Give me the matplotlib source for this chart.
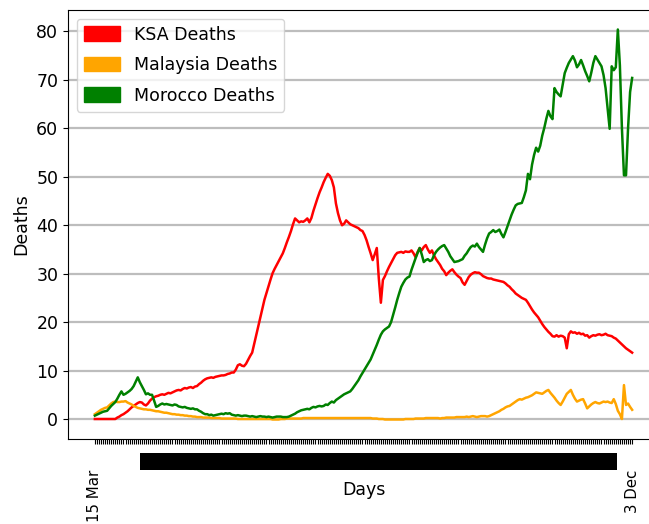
import matplotlib
matplotlib.use('Agg')
import matplotlib.pyplot as plt
from matplotlib.patches import Patch, Rectangle
import pandas as pd

days = pd.date_range('2020-03-15', '2020-12-03', freq='D')
day_labels = [f"{d.day} {d.strftime('%b')}" for d in days]

ksa = [
    0, 0, 0, 0, 0, 0, 0, 0, 0, 0, 0,
    0.3, 0.5, 0.8, 1.0, 1.3, 1.6, 2.0, 2.4, 2.7,
    3.0, 3.3, 3.5, 3.4, 3.0, 2.8, 3.2, 3.8, 4.2, 4.5,
    4.7, 4.8, 5.0, 5.1, 5.0, 5.2, 5.4, 5.3, 5.5, 5.7,
    5.9, 6.0, 5.9, 6.2, 6.4, 6.3, 6.5, 6.6, 6.4, 6.7,
    6.8, 7.2, 7.5, 7.9, 8.2, 8.4, 8.5, 8.6, 8.5, 8.7,
    8.8, 8.9, 9.0, 9.0, 9.1, 9.3, 9.4, 9.6, 9.6, 10.2,
    11.1, 11.3, 11.0, 10.9, 11.4, 12.2, 13.0, 13.7, 15.5, 17.3,
    19.1, 21.0, 22.8, 24.6, 26.0, 27.4, 28.8, 30.1, 31.0, 31.8,
    32.6, 33.4, 34.2, 35.3, 36.5, 37.6, 38.8, 40.2, 41.4, 41.0,
    40.6, 40.8, 40.7, 41.0, 41.4, 40.6, 41.5, 43.0, 44.3, 45.6,
    46.8, 47.8, 48.9, 49.8, 50.6, 50.2, 49.3, 47.8, 44.5, 42.5,
    41.0, 40.0, 40.3, 41.0, 40.6, 40.2, 40.0, 39.8, 39.6, 39.4,
    39.0, 38.8, 38.0, 36.9, 35.5, 34.2, 32.8, 34.0, 35.3, 29.0,
    24.0, 28.7, 29.5, 30.5, 31.4, 32.2, 33.0, 33.8, 34.3, 34.4,
    34.5, 34.3, 34.6, 34.5, 34.5, 34.8, 34.2, 33.4, 34.5, 35.3,
    34.8, 35.5, 35.9, 35.0, 34.3, 34.8, 33.8, 33.0, 32.4, 31.8,
    31.0, 30.5, 29.7, 30.2, 30.6, 30.9, 30.3, 29.8, 29.4, 29.1,
    28.2, 27.7, 28.5, 29.3, 29.8, 30.1, 30.3, 30.2, 30.2, 29.9,
    29.5, 29.3, 29.1, 29.0, 29.0, 28.8, 28.7, 28.6, 28.5, 28.4,
    28.3, 28.0, 27.6, 27.3, 26.8, 26.4, 25.9, 25.6, 25.3, 25.0,
    24.8, 24.6, 24.0, 23.3, 22.6, 22.0, 21.5, 21.0, 20.3, 19.6,
    19.0, 18.5, 18.0, 17.6, 17.1, 17.0, 17.3, 17.0, 17.2, 17.1,
    16.8, 14.6, 17.5, 18.1, 17.8, 17.9, 17.6, 17.8, 17.5, 17.6,
    17.2, 17.3, 16.8, 17.1, 17.3, 17.2, 17.4, 17.5, 17.3, 17.4,
    17.6, 17.3, 17.2, 17.1, 16.8, 16.6, 16.2, 15.8, 15.4, 15.0,
    14.6, 14.3, 14.0, 13.7,
]

malaysia = [
    1.0, 1.3, 1.6, 1.9, 2.1, 2.3, 2.4, 2.8, 3.2, 3.5,
    3.6, 3.5, 3.5, 3.6, 3.6, 3.7, 3.4, 3.2, 3.0, 2.7,
    2.5, 2.3, 2.2, 2.1, 2.0, 2.0, 1.9, 1.9, 1.8, 1.7,
    1.6, 1.6, 1.5, 1.4, 1.3, 1.3, 1.2, 1.1, 1.0, 1.0,
    0.9, 0.9, 0.8, 0.8, 0.7, 0.7, 0.6, 0.6, 0.5, 0.5,
    0.4, 0.4, 0.4, 0.3, 0.3, 0.3, 0.3, 0.2, 0.2, 0.2,
    0.2, 0.2, 0.1, 0.1, 0.1, 0.1, 0.1, 0.1, 0.1, 0.1,
    0.0, 0.0, 0.0, 0.0, 0.0, 0.0, 0.0, 0.0, 0.0, 0.0,
    0.0, 0.0, 0.0, 0.0, 0.0, 0.0, 0.0, -0.1, -0.1, -0.1,
    -0.1, 0.0, 0.0, 0.0, 0.1, 0.1, 0.1, 0.1, 0.1, 0.1,
    0.1, 0.1, 0.2, 0.2, 0.2, 0.2, 0.2, 0.2, 0.2, 0.2,
    0.2, 0.2, 0.2, 0.2, 0.2, 0.2, 0.2, 0.2, 0.2, 0.2,
    0.2, 0.2, 0.2, 0.2, 0.2, 0.2, 0.2, 0.2, 0.2, 0.2,
    0.2, 0.2, 0.2, 0.2, 0.2, 0.2, 0.1, 0.1, 0.1, 0.0,
    0.0, 0.0, -0.1, -0.1, -0.1, -0.1, -0.1, -0.1, -0.1, -0.1,
    -0.1, -0.1, 0.0, 0.0, 0.0, 0.0, 0.0, 0.1, 0.1, 0.1,
    0.1, 0.1, 0.2, 0.2, 0.2, 0.2, 0.2, 0.2, 0.2, 0.1,
    0.2, 0.2, 0.3, 0.3, 0.3, 0.3, 0.3, 0.4, 0.4, 0.4,
    0.4, 0.4, 0.5, 0.4, 0.5, 0.6, 0.5, 0.4, 0.5, 0.6,
    0.6, 0.6, 0.5, 0.6, 0.8, 1.0, 1.2, 1.4, 1.6, 1.9,
    2.1, 2.4, 2.6, 2.7, 3.0, 3.3, 3.6, 3.9, 4.1, 4.0,
    4.2, 4.4, 4.5, 4.7, 4.9, 5.2, 5.5, 5.4, 5.3, 5.2,
    5.5, 5.8, 6.0, 5.4, 4.9, 4.4, 3.8, 3.3, 2.9, 3.6,
    4.4, 5.2, 5.6, 6.0, 5.0, 4.2, 3.6, 3.8, 4.0, 4.1,
    3.2, 2.2, 2.6, 3.0, 3.3, 3.5, 3.3, 3.2, 3.4, 3.6,
    3.5, 3.6, 3.4, 3.3, 4.1, 3.1, 1.7, 1.0, 0.0, 7.0,
    2.9, 3.2, 2.5, 1.9,
]

morocco = [
    0.7, 0.9, 1.1, 1.3, 1.5, 1.6, 1.7, 2.2, 2.7, 3.1,
    3.5, 4.2, 5.0, 5.7, 5.0, 5.2, 5.5, 5.8, 6.2, 6.8,
    7.7, 8.6, 7.6, 6.8, 6.0, 5.1, 5.3, 5.0, 5.0, 3.8,
    2.5, 2.7, 3.0, 3.2, 3.0, 3.1, 3.0, 2.9, 2.8, 3.0,
    2.9, 2.6, 2.5, 2.4, 2.5, 2.3, 2.2, 2.1, 2.2, 2.0,
    2.0, 1.7, 1.5, 1.2, 1.0, 1.0, 0.8, 0.9, 0.7, 0.8,
    0.9, 1.0, 1.1, 1.0, 1.2, 1.1, 1.2, 0.9, 0.8, 0.7,
    0.8, 0.7, 0.6, 0.7, 0.7, 0.6, 0.5, 0.6, 0.5, 0.4,
    0.5, 0.6, 0.5, 0.5, 0.4, 0.5, 0.4, 0.3, 0.4, 0.5,
    0.5, 0.5, 0.4, 0.4, 0.4, 0.5, 0.7, 0.9, 1.1, 1.4,
    1.6, 1.8, 1.9, 2.0, 2.1, 2.0, 2.3, 2.5, 2.4, 2.6,
    2.7, 2.6, 2.7, 3.0, 2.9, 3.3, 3.6, 3.4, 3.9, 4.2,
    4.5, 4.8, 5.1, 5.3, 5.5, 5.7, 6.2, 6.8, 7.4, 8.0,
    8.8, 9.5, 10.2, 10.9, 11.6, 12.3, 13.3, 14.3, 15.3, 16.4,
    17.4, 18.1, 18.5, 18.8, 19.1, 20.0, 21.5, 23.0, 24.6, 26.0,
    27.3, 28.1, 28.8, 29.2, 29.4, 30.8, 32.0, 33.2, 34.3, 35.3,
    34.0, 32.4, 32.8, 33.0, 32.6, 32.8, 33.8, 34.5, 35.0, 35.4,
    35.7, 35.9, 35.2, 34.5, 33.6, 33.0, 32.4, 32.5, 32.6, 32.8,
    33.0, 33.7, 34.2, 34.9, 35.5, 35.8, 35.6, 36.2, 35.5, 35.0,
    34.5, 36.0, 37.3, 38.3, 38.6, 39.0, 38.6, 38.8, 39.1, 38.2,
    37.5, 38.6, 39.8, 41.0, 42.2, 43.2, 44.1, 44.4, 44.5, 44.6,
    45.8, 47.2, 50.6, 49.5, 52.5, 54.5, 56.0, 55.2, 56.4, 58.5,
    60.1, 62.0, 63.6, 62.5, 61.9, 68.3, 67.5, 67.0, 66.6, 69.0,
    71.4, 72.5, 73.5, 74.2, 74.9, 74.0, 72.6, 73.2, 74.1, 73.0,
    71.8, 70.8, 69.7, 71.5, 73.5, 74.9, 74.2, 73.5, 72.8, 71.0,
    68.3, 64.0, 59.9, 72.8, 72.0, 72.6, 80.4, 73.0, 60.0, 50.3,
    50.3, 60.0, 67.5, 70.4,
]

n = len(days)
x = list(range(n))

fig = plt.figure(figsize=(6.49, 5.24), dpi=100)
ax = fig.add_axes([68/649, 85/524, 591/649, 429/524])
ax.yaxis.grid(True, color='#bdbdbd', linewidth=1.6)
ax.set_axisbelow(True)

ax.plot(x, ksa[:n], color='red', lw=1.8)
ax.plot(x, malaysia[:n], color='orange', lw=1.8)
ax.plot(x, morocco[:n], color='green', lw=1.8)

# one tick per day; the crowded middle day labels render as a solid black band
ax.set_xticks(x)
ax.set_xticklabels([''] * n)
ax.tick_params(axis='y', labelsize=12.5)

trans = ax.get_xaxis_transform()
band = Rectangle((22, -0.0723), 233.5, 0.0397, transform=trans,
                 facecolor='black', edgecolor='none', clip_on=False)
ax.add_patch(band)

for i in (0, n - 1):
    ax.text(x[i], -0.072, day_labels[i], rotation=90, ha='center', va='top',
            fontsize=10.8, transform=trans)

ax.set_ylabel('Deaths', fontsize=12.5)
ax.set_xlabel('Days', fontsize=12.5)
ax.xaxis.set_label_coords(0.5, -0.098)

handles = [Patch(color='red', label='KSA Deaths'),
           Patch(color='orange', label='Malaysia Deaths'),
           Patch(color='green', label='Morocco Deaths')]
ax.legend(handles=handles, loc='upper left', fontsize=12.5,
          labelspacing=0.72, handleheight=0.9, handlelength=2.1)

fig.savefig('out.png', dpi=100)
